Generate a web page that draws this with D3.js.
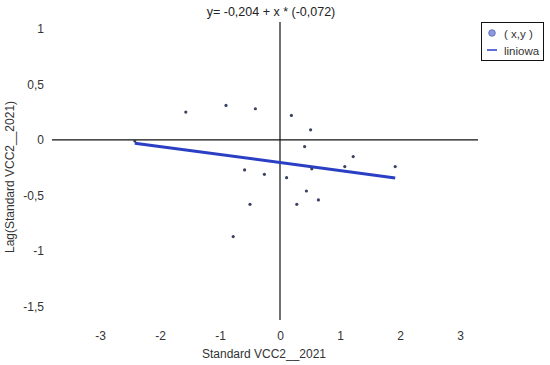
<!DOCTYPE html>
<html><head><meta charset="utf-8">
<script src="https://cdn.jsdelivr.net/npm/d3@7"></script>
<style>body{margin:0;background:#fff}svg{display:block}text{font-family:"Liberation Sans",Arial,sans-serif}</style>
</head><body>
<script>
const xValues = [-2.42,-1.57,-0.90,-0.41,-0.59,-0.26,-0.50,-0.78,0.19,0.51,0.41,1.22,1.08,1.92,0.53,0.11,0.44,0.64,0.28];
const yValues = [-0.01,0.25,0.31,0.28,-0.27,-0.31,-0.58,-0.87,0.22,0.09,-0.06,-0.15,-0.24,-0.24,-0.26,-0.34,-0.46,-0.54,-0.58];
const intercept = [-0.204];
const slope = [-0.072];
const xTicks = [-3,-2,-1,0,1,2,3];
const yTicks = [-1.5,-1,-0.5,0,0.5,1];
const titleText = "y= -0,204 + x * (-0,072)";
const xLabel = "Standard VCC2__2021";
const yLabel = "Lag(Standard VCC2__2021)";
const legendLabels = ["( x,y )","liniowa"];

const W=550,H=365;
const svg=d3.select("body").append("svg").attr("width",W).attr("height",H);
const x=d3.scaleLinear().domain([-3.8,3.3]).range([52,478]);
const y=d3.scaleLinear().domain([-1.62,1.06]).range([320,22]);
const fmt=v=>String(v).replace(".",",");

// cross axes
svg.append("line").attr("x1",x(-3.8)).attr("x2",x(3.3)).attr("y1",y(0)).attr("y2",y(0)).attr("stroke","#111").attr("stroke-width",1.2);
svg.append("line").attr("x1",x(0)).attr("x2",x(0)).attr("y1",y(1.06)).attr("y2",y(-1.62)).attr("stroke","#111").attr("stroke-width",1.2);

// tick labels via d3 axes
const ax=svg.append("g").attr("transform","translate(0,328)").call(d3.axisBottom(x).tickValues(xTicks).tickSize(0).tickFormat(fmt));
ax.select(".domain").remove();
ax.selectAll("text").attr("font-size",12).attr("fill","#333").attr("font-family","Liberation Sans, Arial, sans-serif");
const ay=svg.append("g").attr("transform","translate(47,0)").call(d3.axisLeft(y).tickValues(yTicks).tickSize(0).tickFormat(fmt));
ay.select(".domain").remove();
ay.selectAll("text").attr("font-size",12).attr("fill","#333").attr("font-family","Liberation Sans, Arial, sans-serif");

// regression line
const xmin=d3.min(xValues),xmax=d3.max(xValues);
svg.append("line").attr("x1",x(xmin)).attr("y1",y(intercept[0]+slope[0]*xmin))
  .attr("x2",x(xmax)).attr("y2",y(intercept[0]+slope[0]*xmax))
  .attr("stroke","#2a3fc4").attr("stroke-width",3);

// points
svg.selectAll("circle.pt").data(xValues.map((d,i)=>[d,yValues[i]])).enter().append("circle")
  .attr("class","pt").attr("cx",d=>x(d[0])).attr("cy",d=>y(d[1])).attr("r",1.6).attr("fill","#3b4262");

// title and labels
svg.append("text").attr("x",271).attr("y",16).attr("text-anchor","middle").attr("font-size",12.5).attr("fill","#222").text(titleText);
svg.append("text").attr("x",264).attr("y",358).attr("text-anchor","middle").attr("font-size",12).attr("fill","#333").text(xLabel);
svg.append("text").attr("transform","translate(14,177) rotate(-90)").attr("text-anchor","middle").attr("font-size",12).attr("fill","#333").text(yLabel);

// legend
const lg=svg.append("g");
lg.append("rect").attr("x",481.5).attr("y",22.5).attr("width",62).attr("height",38).attr("fill","#fff").attr("stroke","#111").attr("stroke-width",1);
lg.append("circle").attr("cx",492).attr("cy",33).attr("r",3.3).attr("fill","#8c9be0").attr("stroke","#5566b0").attr("stroke-width",0.8);
lg.append("line").attr("x1",487).attr("x2",497).attr("y1",50).attr("y2",50).attr("stroke","#2a3fc4").attr("stroke-width",1.5);
lg.append("text").attr("x",504).attr("y",38).attr("font-size",11.5).attr("fill","#333").text(legendLabels[0]);
lg.append("text").attr("x",504).attr("y",55).attr("font-size",11.5).attr("fill","#333").text(legendLabels[1]);
</script>
</body></html>
